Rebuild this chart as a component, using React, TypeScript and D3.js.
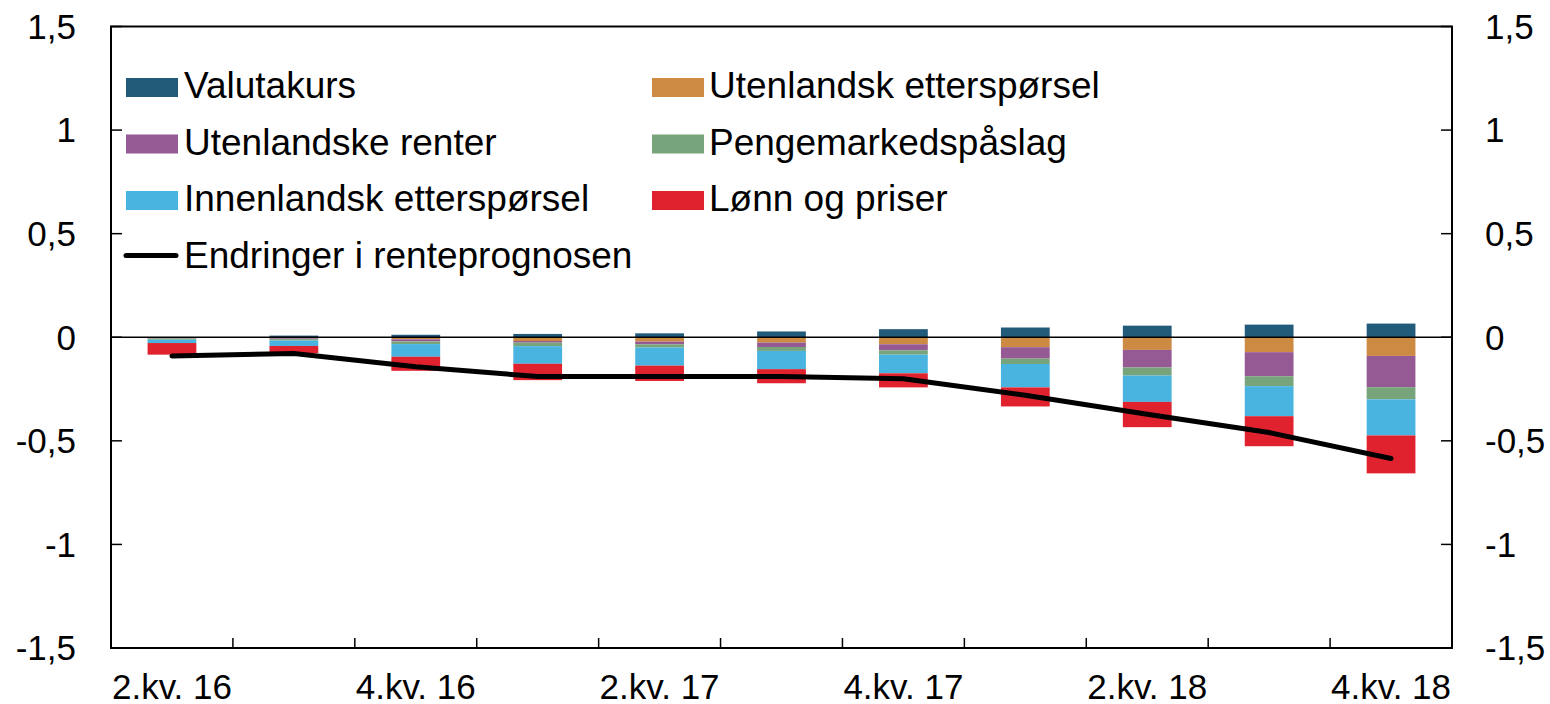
import React from "react";
import * as d3 from "d3";

// quarters
const categories = [
  "2.kv. 16", "3.kv. 16", "4.kv. 16", "1.kv. 17", "2.kv. 17", "3.kv. 17",
  "4.kv. 17", "1.kv. 18", "2.kv. 18", "3.kv. 18", "4.kv. 18",
];
const tickLabels = ["2.kv. 16", "4.kv. 16", "2.kv. 17", "4.kv. 17", "2.kv. 18", "4.kv. 18"];
const yTicks = [1.5, 1, 0.5, 0, -0.5, -1, -1.5];

const valutakurs = [0.0, 0.008, 0.012, 0.016, 0.019, 0.028, 0.039, 0.047, 0.056, 0.061, 0.066];
const utenlandskEttersporsel = [-0.003, -0.005, -0.01, -0.018, -0.021, -0.026, -0.034, -0.048, -0.061, -0.072, -0.09];
const utenlandskeRenter = [-0.003, -0.004, -0.01, -0.008, -0.013, -0.021, -0.029, -0.055, -0.085, -0.116, -0.151];
const pengemarkedspaslag = [-0.006, -0.007, -0.013, -0.017, -0.016, -0.019, -0.021, -0.026, -0.039, -0.048, -0.059];
const innenlandskEttersporsel = [-0.016, -0.026, -0.061, -0.085, -0.087, -0.088, -0.09, -0.113, -0.127, -0.145, -0.174];
const lonnOgPriser = [-0.056, -0.035, -0.068, -0.079, -0.074, -0.068, -0.068, -0.092, -0.122, -0.145, -0.183];
const renteprognose = [-0.09, -0.078, -0.142, -0.19, -0.19, -0.19, -0.2, -0.28, -0.372, -0.46, -0.585];

const series = [
  { key: "Valutakurs", values: valutakurs, color: "#225a7a" },
  { key: "Utenlandsk etterspørsel", values: utenlandskEttersporsel, color: "#cd8a43" },
  { key: "Utenlandske renter", values: utenlandskeRenter, color: "#955a94" },
  { key: "Pengemarkedspåslag", values: pengemarkedspaslag, color: "#78a47c" },
  { key: "Innenlandsk etterspørsel", values: innenlandskEttersporsel, color: "#4ab4e1" },
  { key: "Lønn og priser", values: lonnOgPriser, color: "#df222e" },
];
const lineLabel = "Endringer i renteprognosen";

const W = 1550;
const H = 704;
const left = 111;
const right = 1452;
const top = 26.5;
const bottom = 648;
const font = "Liberation Sans, Arial, sans-serif";

const fmt = (v: number) => String(v).replace(".", ",");

export default function App() {
  const x = d3.scaleBand().domain(categories).range([left, right]).padding(0);
  const y = d3.scaleLinear().domain([-1.5, 1.5]).range([bottom, top]);
  const barW = x.bandwidth() * 0.4;

  const rows = categories.map((c, i) => {
    const r: any = { cat: c };
    series.forEach((s) => (r[s.key] = s.values[i]));
    return r;
  });
  const stacked = d3
    .stack()
    .keys(series.map((s) => s.key))
    .offset(d3.stackOffsetDiverging)(rows);

  const line = d3
    .line<number>()
    .x((_, i) => (x(categories[i]) as number) + x.bandwidth() / 2)
    .y((d) => y(d));

  // legend layout: two columns
  const legendLeft = [series[0], series[2], series[4]];
  const legendRight = [series[1], series[3], series[5]];
  const rowY = (i: number) => 98 + i * 56.5;

  return (
    <svg width={W} height={H} style={{ position: "absolute", left: 0, top: 0 }} fontFamily={font}>
      <rect x={0} y={0} width={W} height={H} fill="#fff" />

      {stacked.map((layer, li) => (
        <g key={layer.key} fill={series[li].color}>
          {layer.map((d, i) => (
            <rect
              key={i}
              x={(x(categories[i]) as number) + (x.bandwidth() - barW) / 2}
              y={y(Math.max(d[0], d[1]))}
              width={barW}
              height={Math.abs(y(d[0]) - y(d[1]))}
            />
          ))}
        </g>
      ))}

      {/* zero line */}
      <line x1={left} x2={right} y1={y(0)} y2={y(0)} stroke="#000" strokeWidth={1.6} />

      <path
        d={line(renteprognose) || ""}
        fill="none"
        stroke="#000"
        strokeWidth={5}
        strokeLinecap="round"
        strokeLinejoin="round"
      />

      {/* frame */}
      <rect x={left} y={top} width={right - left} height={bottom - top} fill="none" stroke="#000" strokeWidth={2} />

      {/* y ticks */}
      {yTicks.map((t) => (
        <g key={t}>
          <line x1={left} x2={left + 11} y1={y(t)} y2={y(t)} stroke="#000" strokeWidth={1.5} />
          <line x1={right - 11} x2={right} y1={y(t)} y2={y(t)} stroke="#000" strokeWidth={1.5} />
          <text x={76} y={y(t)} dy="0.35em" textAnchor="end" fontSize={35}>
            {fmt(t)}
          </text>
          <text x={1485} y={y(t)} dy="0.35em" textAnchor="start" fontSize={35}>
            {fmt(t)}
          </text>
        </g>
      ))}

      {/* x ticks at band boundaries */}
      {categories.slice(1).map((c) => (
        <line key={c} x1={x(c)} x2={x(c)} y1={bottom} y2={bottom - 10} stroke="#000" strokeWidth={1.5} />
      ))}
      {tickLabels.map((c) => (
        <text
          key={c}
          x={(x(c) as number) + x.bandwidth() / 2}
          y={699}
          textAnchor="middle"
          fontSize={35}
        >
          {c}
        </text>
      ))}

      {/* legend */}
      {legendLeft.map((s, i) => (
        <g key={s.key}>
          <rect x={126} y={rowY(i) - 20} width={52} height={19} fill={s.color} />
          <text x={184} y={rowY(i)} fontSize={37}>
            {s.key}
          </text>
        </g>
      ))}
      {legendRight.map((s, i) => (
        <g key={s.key}>
          <rect x={652} y={rowY(i) - 20} width={52} height={19} fill={s.color} />
          <text x={709} y={rowY(i)} fontSize={37}>
            {s.key}
          </text>
        </g>
      ))}
      <line x1={126} x2={176} y1={rowY(3) - 12} y2={rowY(3) - 12} stroke="#000" strokeWidth={5} strokeLinecap="round" />
      <text x={184} y={rowY(3)} fontSize={37}>
        {lineLabel}
      </text>
    </svg>
  );
}
